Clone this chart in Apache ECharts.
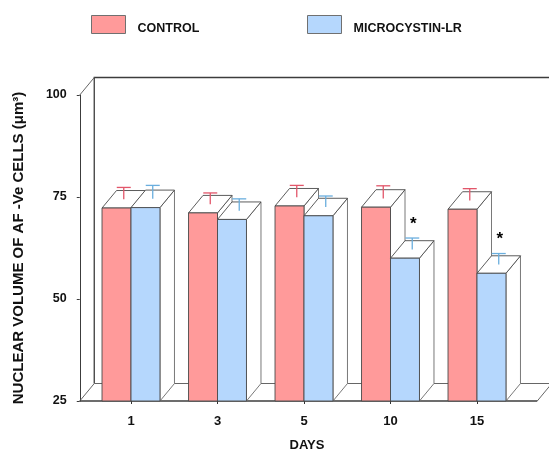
<!DOCTYPE html>
<html>
<head>
<meta charset="utf-8">
<script src="https://cdn.jsdelivr.net/npm/echarts@6/dist/echarts.min.js"></script>
<style>html,body{margin:0;padding:0;background:#fff;}#c{width:549px;height:450px;}</style>
</head>
<body>
<div id="c"></div>
<script>
const days = ['1', '3', '5', '10', '15'];
const control = [72.3, 71.1, 72.8, 72.5, 72.0];
const microcystin = [72.4, 69.5, 70.4, 60.0, 56.3];
const controlErr = [2.9, 2.75, 2.9, 3.1, 2.9];
const microErr = [3.3, 2.9, 2.7, 2.8, 2.7];
const significant = [false, false, false, true, true];
const yMin = 25, yMax = 100, yStep = 25;

const DX = 14.5, DY = -17.5;
const FONT = "'Liberation Sans',Arial,sans-serif";
const RED = '#FF9A9A', BLUE = '#B5D7FD';
const RED_ERR = '#E2566A', BLUE_ERR = '#6AAEDE';

function barRenderer(side, fill, errColor) {
  return function (params, api) {
    const i = api.value(0), v = api.value(1), e = api.value(2), star = api.value(3);
    const top = api.coord([i, v]);
    const base = api.coord([i, yMin]);
    const bw = api.size([1, 0])[0] * 0.335;
    const xc = top[0];
    const x0 = side < 0 ? xc - bw : xc;
    const x1 = x0 + bw;
    const yT = top[1], yB = base[1];
    const stroke = {stroke: '#4a4a4a', lineWidth: 0.9};
    const children = [
      {type: 'polygon', shape: {points: [[x1, yT], [x1 + DX, yT + DY], [x1 + DX, yB + DY], [x1, yB]]},
        style: {fill: '#fff', stroke: '#6a6a6a', lineWidth: 0.9}},
      {type: 'polygon', shape: {points: [[x0, yT], [x1, yT], [x1 + DX, yT + DY], [x0 + DX, yT + DY]]},
        style: Object.assign({fill: '#fff'}, stroke)},
      {type: 'rect', shape: {x: x0, y: yT, width: bw, height: yB - yT},
        style: Object.assign({fill: fill}, stroke)}
    ];
    const ex = (x0 + x1) / 2 + DX / 2;
    const ey0 = yT + DY / 2;
    const ey1 = api.coord([i, v + e])[1] + DY / 2;
    children.push({type: 'line', shape: {x1: ex, y1: ey0, x2: ex, y2: ey1}, style: {stroke: errColor, lineWidth: 1.3}});
    children.push({type: 'line', shape: {x1: ex - 7, y1: ey1, x2: ex + 7, y2: ey1}, style: {stroke: errColor, lineWidth: 1.3}});
    if (star) {
      children.push({type: 'text', x: ex + 1, y: ey1 - 14,
        style: {text: '*', fill: '#000', font: 'bold 17px ' + FONT, align: 'center', verticalAlign: 'middle'}});
    }
    return {type: 'group', children: children};
  };
}

function frameRenderer(params, api) {
  const g = params.coordSys;
  const L = g.x - 8, R = g.x + g.width + 17, T = g.y, B = g.y + g.height;
  const dark = {stroke: '#3c3c3c', lineWidth: 1.3};
  const gray = {stroke: '#666', lineWidth: 1};
  return {type: 'group', children: [
    {type: 'polyline', shape: {points: [[L + DX, B + DY], [L + DX, T + DY], [R + DX, T + DY], [R + DX, B + DY]]}, style: Object.assign({fill: null}, dark)},
    {type: 'line', shape: {x1: L + DX, y1: B + DY, x2: R + DX, y2: B + DY}, style: gray},
    {type: 'line', shape: {x1: L, y1: T, x2: L + DX, y2: T + DY}, style: gray},
    {type: 'line', shape: {x1: L, y1: B, x2: L + DX, y2: B + DY}, style: gray},
    {type: 'line', shape: {x1: R, y1: B, x2: R + DX, y2: B + DY}, style: gray},
    {type: 'line', shape: {x1: L, y1: B, x2: R, y2: B}, style: dark}
  ]};
}

const legendText = {
  fontFamily: FONT, fontWeight: 'bold', fontSize: 12.5, color: '#111',
  rich: {t: {fontFamily: FONT, fontWeight: 'bold', fontSize: 12.5, color: '#111', padding: [8, 0, 0, 7]}}
};

const chart = echarts.init(document.getElementById('c'));
chart.setOption({
  animation: false,
  backgroundColor: '#fff',
  grid: {left: 87.75, top: 95, width: 432.5, height: 306, containLabel: false, outerBoundsMode: 'none'},
  legend: [
    {data: ['CONTROL'], left: 91, top: 15, padding: 0, itemWidth: 34, itemHeight: 18, icon: 'rect',
      itemStyle: {borderColor: '#707070', borderWidth: 1},
      formatter: '{t|{name}}', textStyle: legendText},
    {data: ['MICROCYSTIN-LR'], left: 307, top: 15, padding: 0, itemWidth: 34, itemHeight: 18, icon: 'rect',
      itemStyle: {borderColor: '#707070', borderWidth: 1},
      formatter: '{t|{name}}', textStyle: legendText}
  ],
  xAxis: {
    type: 'category', data: days,
    axisLine: {show: false},
    axisTick: {show: true, alignWithLabel: true, length: 3, lineStyle: {color: '#333'}},
    axisLabel: {margin: 14, fontFamily: FONT, fontWeight: 'bold', fontSize: 13, color: '#111'},
    name: 'DAYS', nameLocation: 'middle', nameGap: 38,
    nameTextStyle: {fontFamily: FONT, fontWeight: 'bold', fontSize: 13, color: '#111', padding: [0, 0, 0, 6]}
  },
  yAxis: {
    type: 'value', min: yMin, max: yMax, interval: yStep, offset: 8,
    axisLine: {show: true, lineStyle: {color: '#3c3c3c', width: 1}},
    axisTick: {show: true, length: 3, lineStyle: {color: '#3c3c3c'}},
    splitLine: {show: false},
    axisLabel: {margin: 13, fontFamily: FONT, fontWeight: 'bold', fontSize: 12.5, color: '#111'},
    name: 'NUCLEAR VOLUME OF AF -Ve CELLS (μm³)', nameLocation: 'middle', nameGap: 53, nameRotate: 90,
    nameTextStyle: {fontFamily: FONT, fontWeight: 'bold', fontSize: 15, color: '#111'}
  },
  series: [
    {type: 'custom', name: 'frame', silent: true, z: 1, renderItem: frameRenderer, data: [[0, yMin]]},
    {type: 'custom', name: 'CONTROL', z: 2, itemStyle: {color: RED},
      renderItem: barRenderer(-1, RED, RED_ERR),
      data: days.map((d, i) => [i, control[i], controlErr[i], 0])},
    {type: 'custom', name: 'MICROCYSTIN-LR', z: 3, itemStyle: {color: BLUE},
      renderItem: barRenderer(1, BLUE, BLUE_ERR),
      data: days.map((d, i) => [i, microcystin[i], microErr[i], significant[i] ? 1 : 0])}
  ]
});
</script>
</body>
</html>
